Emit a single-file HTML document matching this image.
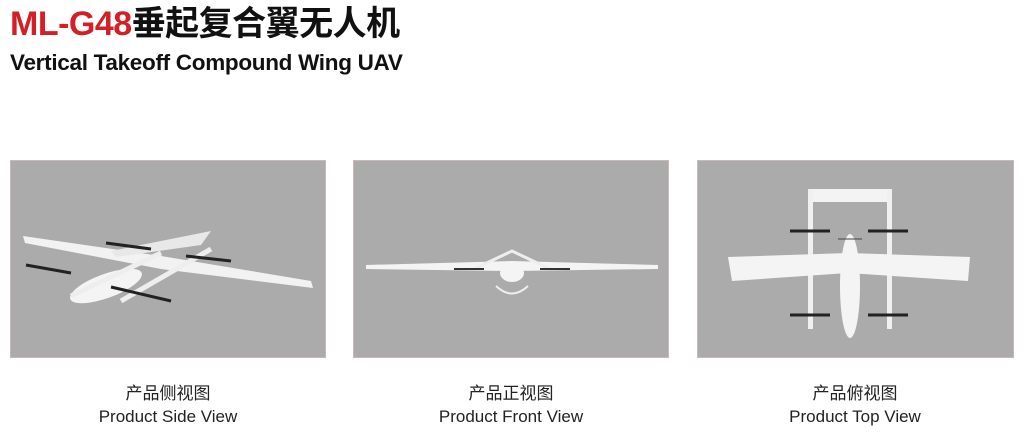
<!DOCTYPE html>
<html><head><meta charset="utf-8"><style>
html,body{margin:0;padding:0;background:#fff;width:1024px;height:439px;overflow:hidden;position:relative;font-family:"Liberation Sans","Noto Sans CJK SC",sans-serif}
.t1{position:absolute;left:10px;top:2px;font-size:34px;font-weight:bold;letter-spacing:-0.5px;line-height:44px;color:#111;white-space:nowrap}
.t1 span{color:#d31f26}
.t2{position:absolute;left:10px;top:49px;font-size:22.5px;font-weight:bold;line-height:28px;color:#111;letter-spacing:-0.3px;white-space:nowrap}
.p{position:absolute;top:160px;height:198px;background:#ababab;border:1px solid #c8b9b6;box-sizing:border-box}
.c{position:absolute;width:300px;text-align:center;font-size:17px;color:#222;line-height:23px}
svg{position:absolute;left:0;top:0}
</style></head><body>
<div class="t1"><span>ML-G48</span>垂起复合翼无人机</div>
<div class="t2">Vertical Takeoff Compound Wing UAV</div>

<div class="p" style="left:10px;width:316px"><svg width="316" height="198">
<polygon points="12,75 150,95 300,120 302,127 150,108 14,82" fill="#f2f2f2"/>
<polygon points="100,90 200,70 190,84 105,96" fill="#e8e8e8"/>
<ellipse cx="95" cy="125" rx="38" ry="12" fill="#f4f4f4" transform="rotate(-20 95 125)"/>
<line x1="60" y1="135" x2="150" y2="92" stroke="#eee" stroke-width="5"/>
<line x1="110" y1="140" x2="200" y2="88" stroke="#eee" stroke-width="5"/>
<g stroke="#222" stroke-width="3"><line x1="15" y1="104" x2="60" y2="112"/><line x1="100" y1="126" x2="160" y2="140"/><line x1="95" y1="82" x2="140" y2="88"/><line x1="175" y1="95" x2="220" y2="100"/></g>
</svg></div>

<div class="p" style="left:353px;width:316px"><svg width="316" height="198">
<polygon points="12,104 158,100 304,104 304,108 158,110 12,108" fill="#f4f4f4"/>
<polyline points="120,108 158,90 196,108" fill="none" stroke="#eee" stroke-width="3"/>
<ellipse cx="158" cy="112" rx="12" ry="9" fill="#f4f4f4"/>
<g stroke="#333" stroke-width="2"><line x1="100" y1="108" x2="130" y2="108"/><line x1="186" y1="108" x2="216" y2="108"/></g>
<path d="M142,125 Q158,140 174,125" fill="none" stroke="#eee" stroke-width="2"/>
</svg></div>

<div class="p" style="left:697px;width:317px"><svg width="317" height="198">
<rect x="112" y="28" width="80" height="13" fill="#f3f3f3"/>
<rect x="110" y="28" width="5" height="140" fill="#f0f0f0"/>
<rect x="189" y="28" width="5" height="140" fill="#f0f0f0"/>
<polygon points="30,96 150,92 272,96 270,120 150,112 34,120" fill="#f4f4f4"/>
<ellipse cx="152" cy="125" rx="10" ry="52" fill="#f4f4f4"/>
<g stroke="#222" stroke-width="3"><line x1="92" y1="70" x2="132" y2="70"/><line x1="170" y1="70" x2="210" y2="70"/><line x1="92" y1="154" x2="132" y2="154"/><line x1="170" y1="154" x2="210" y2="154"/></g>
<line x1="140" y1="78" x2="164" y2="78" stroke="#444" stroke-width="1"/>
</svg></div>

<div class="c" style="left:18px;top:382px">产品侧视图<br>Product Side View</div>
<div class="c" style="left:361px;top:382px">产品正视图<br>Product Front View</div>
<div class="c" style="left:705px;top:382px">产品俯视图<br>Product Top View</div>
</body></html>
